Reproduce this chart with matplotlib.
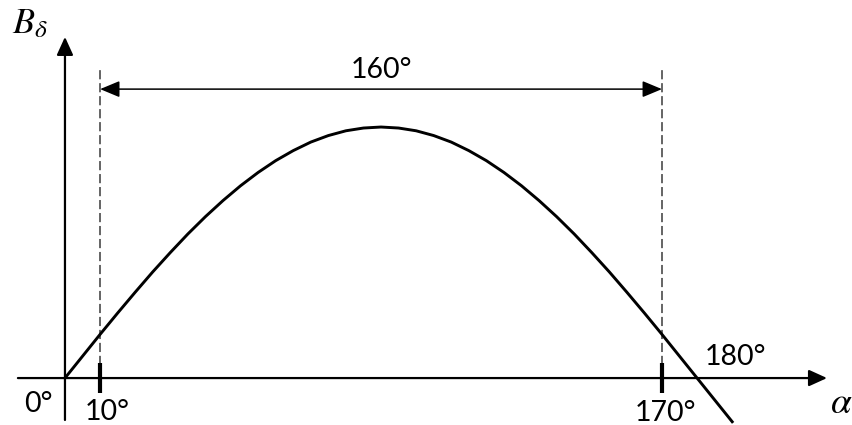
import matplotlib
matplotlib.use("Agg")
import matplotlib.pyplot as plt

plt.rcParams['mathtext.fontset'] = 'stix'

# curve (alpha in degrees, B normalised to the peak)
alpha_deg = [0, 5, 10, 15, 20, 25, 30, 35, 40, 45, 50, 55, 60, 65, 70, 75, 80, 85, 90,
             95, 100, 105, 110, 115, 120, 125, 130, 135, 140, 145, 150, 155, 160, 165,
             170, 175, 180, 185, 190]
b_delta = [0.000, 0.087, 0.174, 0.259, 0.342, 0.423, 0.500, 0.574, 0.643, 0.707, 0.766,
           0.819, 0.866, 0.906, 0.940, 0.966, 0.985, 0.996, 1.000, 0.996, 0.985, 0.966,
           0.940, 0.906, 0.866, 0.819, 0.766, 0.707, 0.643, 0.574, 0.500, 0.423, 0.342,
           0.259, 0.174, 0.087, 0.000, -0.087, -0.174]

marked = [10, 170]          # dashed guides + ticks
span_label = "160°"
tick_labels = ["0°", "10°", "170°", "180°"]

fig = plt.figure(figsize=(8.53, 4.25), dpi=100)
ax = fig.add_axes([0, 0, 1, 1])
ax.set_xlim(-18.5, 224.4)
ax.set_ylim(-0.187, 1.506)
ax.axis('off')

num_font = dict(family='Lato', fontsize=20.5, color='black')

# axes with arrows
ax.annotate("", xy=(217.0, 0), xytext=(-13.4, 0),
            arrowprops=dict(arrowstyle='-|>,head_length=1.1,head_width=0.5',
                            mutation_scale=10, lw=1.6, color='black',
                            shrinkA=0, shrinkB=0))
ax.annotate("", xy=(0, 1.359), xytext=(0, -0.167),
            arrowprops=dict(arrowstyle='-|>,head_length=1.1,head_width=0.5',
                            mutation_scale=10, lw=1.6, color='black',
                            shrinkA=0, shrinkB=0))

# dashed guides and thick ticks
for m in marked:
    ax.plot([m, m], [0, 1.235], color='#3a3a3a', lw=1.1, linestyle=(0, (6, 2.5)))
    ax.plot([m, m], [-0.06, 0.06], color='black', lw=3, solid_capstyle='butt')

# span arrow
ax.annotate("", xy=(marked[1], 1.151), xytext=(marked[0], 1.151),
            arrowprops=dict(arrowstyle='<|-|>,head_length=1.2,head_width=0.5',
                            mutation_scale=10, lw=1.1, color='black',
                            shrinkA=0, shrinkB=0))
ax.text(90, 1.194, span_label, ha='center', va='baseline', **num_font)

# curve
ax.plot(alpha_deg, b_delta, color='black', lw=2.1, solid_joinstyle='round')

# labels
ax.text(-3.4, -0.134, tick_labels[0], ha='right', va='baseline', **num_font)
ax.text(12.0, -0.167, tick_labels[1], ha='center', va='baseline', **num_font)
ax.text(171.1, -0.170, tick_labels[2], ha='center', va='baseline', **num_font)
ax.text(190.8, 0.052, tick_labels[3], ha='center', va='baseline', **num_font)
ax.text(221, -0.139, r'$\alpha$', ha='center', va='baseline', fontsize=27)
ax.text(-15.1, 1.375, r'$B_\delta$', ha='left', va='baseline', fontsize=26)

fig.savefig("out.png", dpi=100)
